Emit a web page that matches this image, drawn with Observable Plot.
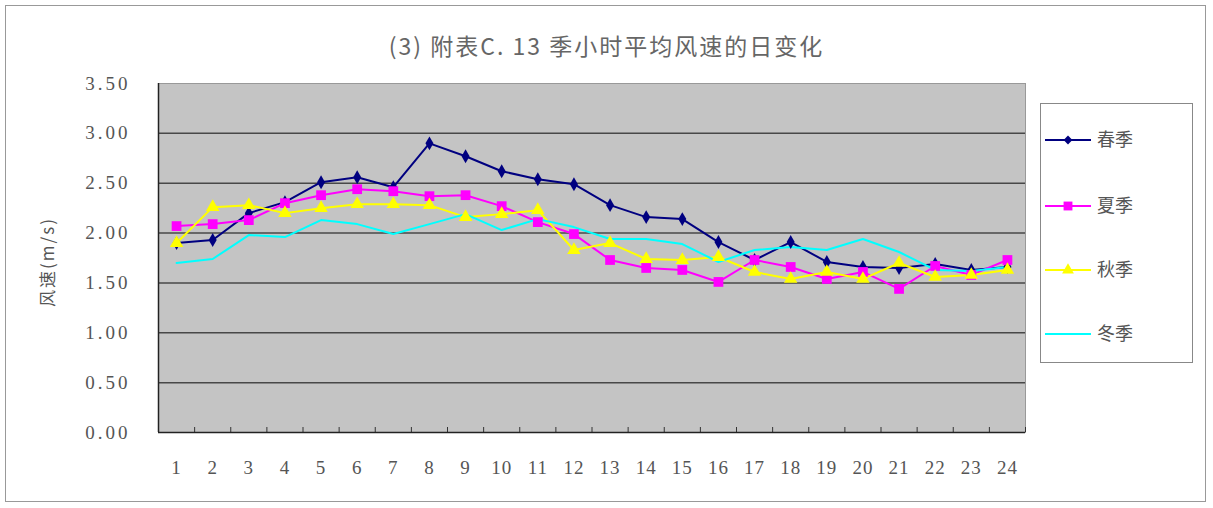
<!DOCTYPE html>
<html><head><meta charset="utf-8">
<script src="https://cdn.jsdelivr.net/npm/d3@7"></script>
<script src="https://cdn.jsdelivr.net/npm/@observablehq/plot@0.6"></script>
<style>
body{margin:0;background:#fff;}
#wrap{position:relative;width:1213px;height:508px;overflow:hidden;background:#fff;}
#border{position:absolute;left:5px;top:5px;width:1201px;height:497px;border:1px solid #999;box-sizing:border-box;}
#title{position:absolute;left:0;width:1213px;top:28px;text-align:center;font-family:"Noto Sans CJK SC","Liberation Serif",serif;font-size:23px;letter-spacing:2px;color:#666;}
#ylab{position:absolute;left:46px;top:262px;transform:translate(-50%,-50%) rotate(-90deg);font-family:"Noto Sans CJK SC",serif;font-size:17px;letter-spacing:2px;color:#555;white-space:nowrap;}
#legend{position:absolute;left:1040px;top:103px;width:153px;height:260px;border:1px solid #888;box-sizing:border-box;background:#fff;}
#chart{position:absolute;left:0;top:0;}
#chart g[aria-label="y-axis tick label"] text{letter-spacing:3px;}
#chart g[aria-label="x-axis tick label"] text{letter-spacing:1px;}
</style></head>
<body><div id="wrap"><div id="border"></div><div id="chart"></div><div id="title"></div><div id="ylab"></div><div id="legend"></div></div>
<script>
const titleText = "(3) 附表C. 13 季小时平均风速的日变化";
const yLabel = "风速(m/s)";
const hours = d3.range(1, 25);
const seasons = ["春季", "夏季", "秋季", "冬季"];
const spring = [1.90,1.93,2.20,2.31,2.51,2.56,2.46,2.90,2.77,2.62,2.54,2.49,2.28,2.16,2.14,1.91,1.73,1.91,1.71,1.66,1.65,1.69,1.63,1.66];
const summer = [2.07,2.09,2.13,2.30,2.38,2.44,2.42,2.37,2.38,2.27,2.11,1.99,1.73,1.65,1.63,1.51,1.73,1.66,1.54,1.61,1.44,1.67,1.58,1.73];
const autumn = [1.90,2.26,2.28,2.20,2.25,2.29,2.29,2.28,2.16,2.19,2.23,1.83,1.90,1.74,1.73,1.76,1.61,1.54,1.61,1.54,1.70,1.56,1.58,1.63];
const winter = [1.70,1.74,1.98,1.96,2.13,2.09,1.99,2.09,2.19,2.03,2.14,2.06,1.94,1.94,1.89,1.71,1.83,1.86,1.83,1.94,1.81,1.63,1.62,1.66];
const yTicks = [0,0.5,1,1.5,2,2.5,3,3.5];
const colors = {"春季":"#000080","夏季":"#FF00FF","秋季":"#FFFF00","冬季":"#00FFFF"};
const symbols = {"春季":"diamond","夏季":"square","秋季":"triangle"};
const sizes = {"春季":4.2,"夏季":5.5,"秋季":5};

const seriesVals = [spring, summer, autumn, winter];
const data = [];
seasons.forEach((s,i)=>hours.forEach((h,j)=>data.push({season:s,hour:h,v:seriesVals[i][j]})));
const boundaries = d3.range(0.5, 25, 1);

const font = '"Liberation Serif", "DejaVu Serif", serif';
const plot = Plot.plot({
  width: 1213, height: 508,
  marginLeft: 158, marginRight: 188, marginTop: 83, marginBottom: 76,
  style: {fontFamily: font, background: "transparent"},
  x: {type: "linear", domain: [0.5, 24.5]},
  y: {domain: [0, 3.5]},
  marks: [
    Plot.frame({fill: "#c4c4c4", stroke: "#999"}),
    Plot.gridY(yTicks.filter(t=>t>0 && t<3.5), {stroke: "#333", strokeOpacity: 0.85, strokeWidth: 1.5}),
    Plot.axisY({ticks: yTicks, tickFormat: d3.format(".2f"), tickSize: 0, tickPadding: 28, fontSize: 19, fill: "#555", label: null}),
    Plot.axisX({ticks: hours, tickSize: 0, tickPadding: 28, fontSize: 19, fill: "#555", label: null}),
    Plot.axisX({ticks: boundaries, tickSize: -5, tickFormat: () => "", label: null, stroke: "#333"}),
    Plot.ruleY([0], {stroke: "#222", strokeWidth: 1.5}),
    Plot.ruleX([0.5], {stroke: "#222", strokeWidth: 1.5}),
    ...seasons.map(s => Plot.line(data.filter(d=>d.season===s), {x: "hour", y: "v", stroke: colors[s], strokeWidth: 2})),
    ...seasons.filter(s=>symbols[s]).map(s => Plot.dot(data.filter(d=>d.season===s), {x: "hour", y: "v", fill: colors[s], symbol: symbols[s], r: sizes[s]}))
  ]
});
document.getElementById("chart").append(plot);
document.getElementById("title").textContent = titleText;
document.getElementById("ylab").textContent = yLabel;

// legend
const lg = d3.select("#legend").append("svg").attr("width",151).attr("height",258);
const ly = [36, 102, 166, 230];
seasons.forEach((s,i)=>{
  const g = lg.append("g").attr("transform",`translate(0,${ly[i]})`);
  g.append("line").attr("x1",4).attr("x2",50).attr("y1",0).attr("y2",0).attr("stroke",colors[s]).attr("stroke-width",2);
  if (symbols[s]) {
    const sym = d3.symbol().type(symbols[s]==="diamond"?d3.symbolDiamond2:symbols[s]==="square"?d3.symbolSquare2:d3.symbolTriangle2).size(symbols[s]==="diamond"?50:100);
    g.append("path").attr("d",sym()).attr("transform","translate(27,0)").attr("fill",colors[s]);
  }
  g.append("text").attr("x",56).attr("y",0).attr("dy","0.35em").attr("font-family",'"Noto Sans CJK SC", serif').attr("font-size",18).attr("fill","#555").text(s);
});
</script></body></html>
